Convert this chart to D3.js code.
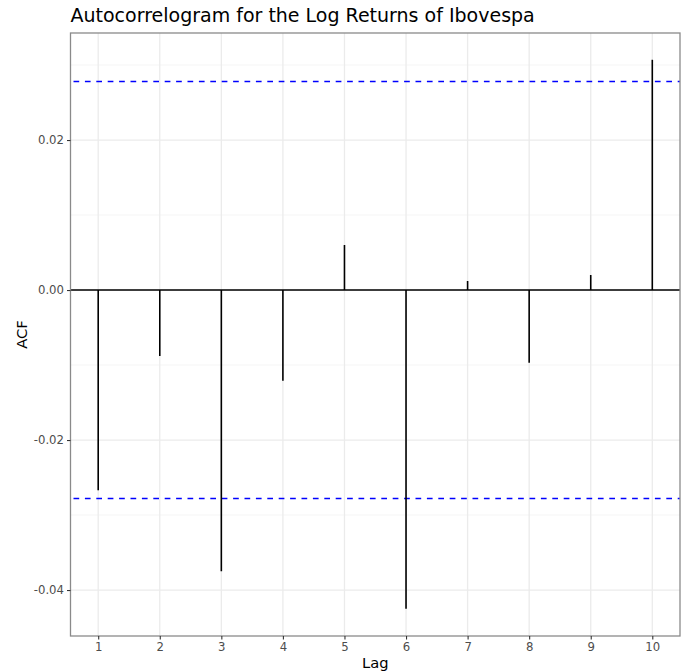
<!DOCTYPE html>
<html>
<head>
<meta charset="utf-8">
<script src="https://cdn.jsdelivr.net/npm/d3@7"></script>
<style>
  body { margin: 0; background: #fff; }
  svg { font-family: "DejaVu Sans", sans-serif; }
</style>
</head>
<body>
<svg id="chart"></svg>
<script>
var lags = [1, 2, 3, 4, 5, 6, 7, 8, 9, 10];
var acfValues = [-0.0267, -0.0088, -0.0375, -0.0121, 0.0060, -0.0425, 0.0012, -0.0097, 0.0020, 0.0307];
var confLimit = 0.0278;
var yTicks = [-0.04, -0.02, 0.00, 0.02];
var yMinor = [-0.03, -0.01, 0.01, 0.03];

var width = 687, height = 671;
var margin = {top: 33, right: 7, bottom: 35, left: 70.5};

var svg = d3.select("#chart")
    .attr("width", width)
    .attr("height", height);

var x = d3.scaleLinear()
    .domain([0.55, 10.45])
    .range([margin.left, width - margin.right]);

var y = d3.scaleLinear()
    .domain([-0.04613, 0.03427])
    .range([height - margin.bottom, margin.top]);

// ggplot prints a plain hyphen for negatives
var fmtY = d => d3.format(".2f")(d).replace("\u2212", "-");

// grid
var grid = svg.append("g");
grid.selectAll(".minor")
    .data(yMinor)
    .join("line")
    .attr("x1", x.range()[0]).attr("x2", x.range()[1])
    .attr("y1", d => y(d)).attr("y2", d => y(d))
    .attr("stroke", "#f2f2f2").attr("stroke-width", 0.7);
grid.selectAll(".majorY")
    .data(yTicks)
    .join("line")
    .attr("x1", x.range()[0]).attr("x2", x.range()[1])
    .attr("y1", d => y(d)).attr("y2", d => y(d))
    .attr("stroke", "#ebebeb").attr("stroke-width", 1.3);
grid.selectAll(".majorX")
    .data(lags)
    .join("line")
    .attr("x1", d => x(d)).attr("x2", d => x(d))
    .attr("y1", y.range()[0]).attr("y2", y.range()[1])
    .attr("stroke", "#ebebeb").attr("stroke-width", 1.3);

// zero line
svg.append("line")
    .attr("x1", x.range()[0]).attr("x2", x.range()[1])
    .attr("y1", y(0)).attr("y2", y(0))
    .attr("stroke", "#000").attr("stroke-width", 1.5);

// confidence bounds
[confLimit, -confLimit].forEach(v => {
    svg.append("line")
        .attr("x1", x.range()[0]).attr("x2", x.range()[1])
        .attr("y1", y(v)).attr("y2", y(v))
        .attr("stroke", "#0000ff").attr("stroke-width", 1.5)
        .attr("stroke-dasharray", "5.7,5.7")
        .attr("stroke-dashoffset", -3);
});

// acf spikes
svg.append("g").selectAll("line")
    .data(lags)
    .join("line")
    .attr("x1", d => x(d)).attr("x2", d => x(d))
    .attr("y1", y(0)).attr("y2", (d, i) => y(acfValues[i]))
    .attr("stroke", "#000").attr("stroke-width", 1.6);

// panel border
svg.append("rect")
    .attr("x", x.range()[0]).attr("y", margin.top)
    .attr("width", x.range()[1] - x.range()[0])
    .attr("height", y.range()[0] - margin.top)
    .attr("fill", "none").attr("stroke", "#8a8a8a").attr("stroke-width", 1.3);

// axes
var xAxis = svg.append("g")
    .attr("transform", `translate(0,${y.range()[0]})`)
    .call(d3.axisBottom(x).tickValues(lags).tickFormat(d3.format("d")).tickSize(3.5).tickPadding(3));
var yAxis = svg.append("g")
    .attr("transform", `translate(${x.range()[0]},0)`)
    .call(d3.axisLeft(y).tickValues(yTicks).tickFormat(fmtY).tickSize(3.5).tickPadding(3));
[xAxis, yAxis].forEach(a => {
    a.select(".domain").remove();
    a.selectAll(".tick line").attr("stroke", "#333").attr("stroke-width", 1.1);
    a.selectAll(".tick text")
        .attr("fill", "#4d4d4d")
        .style("font-size", "11.7px")
        .style("font-family", "DejaVu Sans, sans-serif");
});

// titles
svg.append("text")
    .attr("x", margin.left)
    .attr("y", 22)
    .style("font-size", "19px")
    .attr("fill", "#000")
    .text("Autocorrelogram for the Log Returns of Ibovespa");

svg.append("text")
    .attr("x", (x.range()[0] + x.range()[1]) / 2)
    .attr("y", 668)
    .attr("text-anchor", "middle")
    .style("font-size", "14.7px")
    .text("Lag");

svg.append("text")
    .attr("transform", `translate(27,${(y.range()[0] + y.range()[1]) / 2}) rotate(-90)`)
    .attr("text-anchor", "middle")
    .style("font-size", "14.7px")
    .text("ACF");
</script>
</body>
</html>
